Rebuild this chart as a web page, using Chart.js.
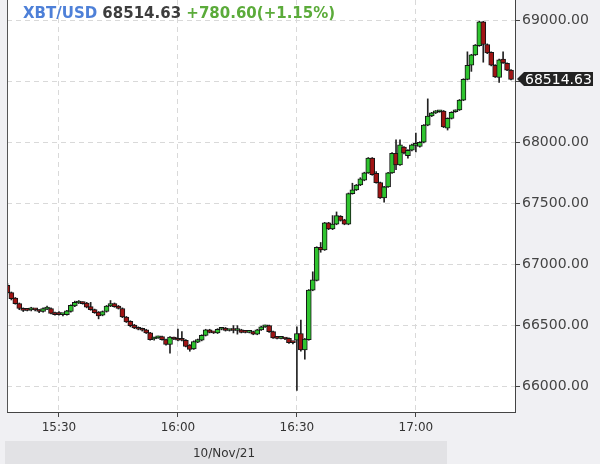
<!DOCTYPE html>
<html lang="en">
<head>
<meta charset="UTF-8">
<title>XBT/USD 1 min</title>
<script src="https://cdn.jsdelivr.net/npm/chart.js"></script>
<style>
    html, body { margin: 0; padding: 0; background: #f0f0f3; }
</style>
</head>
<body>
<canvas id="candles" width="600" height="464"></canvas>

<script type="text/javascript">
    // 1-minute candles, 15:17 - 17:24
    const times = [
        '15:17','15:18','15:19','15:20','15:21','15:22','15:23','15:24','15:25','15:26',
        '15:27','15:28','15:29','15:30','15:31','15:32','15:33','15:34','15:35','15:36',
        '15:37','15:38','15:39','15:40','15:41','15:42','15:43','15:44','15:45','15:46',
        '15:47','15:48','15:49','15:50','15:51','15:52','15:53','15:54','15:55','15:56',
        '15:57','15:58','15:59','16:00','16:01','16:02','16:03','16:04','16:05','16:06',
        '16:07','16:08','16:09','16:10','16:11','16:12','16:13','16:14','16:15','16:16',
        '16:17','16:18','16:19','16:20','16:21','16:22','16:23','16:24','16:25','16:26',
        '16:27','16:28','16:29','16:30','16:31','16:32','16:33','16:34','16:35','16:36',
        '16:37','16:38','16:39','16:40','16:41','16:42','16:43','16:44','16:45','16:46',
        '16:47','16:48','16:49','16:50','16:51','16:52','16:53','16:54','16:55','16:56',
        '16:57','16:58','16:59','17:00','17:01','17:02','17:03','17:04','17:05','17:06',
        '17:07','17:08','17:09','17:10','17:11','17:12','17:13','17:14','17:15','17:16',
        '17:17','17:18','17:19','17:20','17:21','17:22','17:23','17:24'
    ];
    const opens = [
        66830, 66770, 66725, 66680, 66640, 66630, 66628, 66630, 66625, 66615,
        66635, 66640, 66605, 66595, 66590, 66590, 66615, 66660, 66685, 66690,
        66685, 66655, 66630, 66610, 66585, 66615, 66660, 66680, 66660, 66640,
        66570, 66535, 66505, 66485, 66470, 66465, 66440, 66390, 66400, 66410,
        66385, 66345, 66400, 66390, 66385, 66380, 66340, 66310, 66365, 66380,
        66420, 66465, 66445, 66440, 66470, 66480, 66460, 66465, 66460, 66465,
        66450, 66445, 66450, 66430, 66465, 66490, 66500, 66450, 66400, 66395,
        66395, 66395, 66365, 66380, 66435, 66300, 66385, 66790, 66870, 67140,
        67120, 67340, 67290, 67330, 67395, 67365, 67330, 67580, 67610, 67650,
        67690, 67750, 67870, 67745, 67670, 67545, 67635, 67750, 67910, 67815,
        67960, 67890, 67935, 67975, 67965, 68000, 68140, 68215, 68240, 68250,
        68255, 68115, 68195, 68250, 68265, 68345, 68515, 68630, 68715, 68790,
        68985, 68800, 68735, 68630, 68530, 68680, 68645, 68590
    ];
    const highs = [
        66845, 66775, 66730, 66685, 66645, 66640, 66650, 66640, 66630, 66645,
        66660, 66645, 66610, 66615, 66600, 66625, 66670, 66700, 66705, 66695,
        66690, 66690, 66635, 66615, 66620, 66665, 66705, 66685, 66665, 66645,
        66575, 66540, 66510, 66490, 66480, 66470, 66445, 66405, 66415, 66415,
        66390, 66410, 66405, 66472, 66450, 66385, 66345, 66375, 66390, 66425,
        66470, 66470, 66450, 66475, 66485, 66485, 66470, 66500, 66500, 66470,
        66455, 66455, 66455, 66470, 66495, 66505, 66505, 66455, 66405, 66405,
        66400, 66400, 66370, 66490, 66545, 66395, 66795, 66940, 67145, 67180,
        67345, 67345, 67400, 67430, 67400, 67370, 67585, 67665, 67655, 67710,
        67755, 67875, 67875, 67760, 67675, 67640, 67755, 67915, 68020, 68020,
        67965, 67940, 67985, 68075, 68005, 68145, 68355, 68245, 68260, 68260,
        68260, 68200, 68250, 68265, 68350, 68520, 68740, 68720, 68800, 68990,
        68990, 68805, 68740, 68635, 68680, 68740, 68650, 68595
    ];
    const lows = [
        66760, 66710, 66675, 66630, 66615, 66620, 66620, 66620, 66605, 66610,
        66630, 66595, 66585, 66585, 66580, 66585, 66610, 66655, 66680, 66675,
        66645, 66625, 66600, 66555, 66580, 66610, 66655, 66650, 66635, 66565,
        66525, 66490, 66475, 66465, 66455, 66435, 66380, 66380, 66395, 66380,
        66340, 66275, 66385, 66375, 66375, 66325, 66290, 66305, 66360, 66375,
        66415, 66440, 66435, 66435, 66465, 66455, 66455, 66440, 66430, 66440,
        66440, 66440, 66425, 66425, 66460, 66485, 66445, 66395, 66390, 66390,
        66385, 66355, 66350, 65970, 66290, 66225, 66380, 66785, 66865, 67100,
        67115, 67285, 67285, 67325, 67355, 67325, 67325, 67575, 67605, 67645,
        67685, 67745, 67730, 67665, 67540, 67510, 67630, 67745, 67775, 67810,
        67905, 67870, 67930, 67920, 67960, 67995, 68135, 68210, 68235, 68245,
        68120, 68100, 68190, 68245, 68260, 68340, 68510, 68580, 68710, 68785,
        68655, 68725, 68625, 68530, 68490, 68645, 68585, 68510
    ];
    const closes = [
        66770, 66720, 66680, 66640, 66625, 66625, 66632, 66628, 66615, 66640,
        66645, 66600, 66590, 66590, 66592, 66620, 66665, 66690, 66695, 66680,
        66650, 66630, 66605, 66580, 66615, 66660, 66680, 66655, 66640, 66570,
        66530, 66500, 66480, 66470, 66462, 66440, 66385, 66395, 66410, 66385,
        66345, 66405, 66390, 66380, 66380, 66330, 66305, 66370, 66385, 66420,
        66465, 66445, 66440, 66470, 66480, 66460, 66465, 66460, 66465, 66445,
        66445, 66448, 66430, 66465, 66490, 66500, 66450, 66400, 66395, 66398,
        66390, 66360, 66360, 66435, 66300, 66390, 66790, 66875, 67140, 67120,
        67340, 67290, 67330, 67400, 67360, 67330, 67580, 67610, 67650, 67700,
        67750, 67870, 67735, 67670, 67545, 67635, 67750, 67910, 67815, 67980,
        67912, 67935, 67980, 67985, 68000, 68140, 68215, 68240, 68250, 68252,
        68125, 68195, 68245, 68255, 68345, 68515, 68630, 68715, 68795, 68985,
        68800, 68730, 68630, 68535, 68675, 68650, 68590, 68514.63
    ];

    // axis ticks
    const timeTicks = ['15:30', '16:00', '16:30', '17:00'];
    const priceTicks = [66000, 66500, 67000, 67500, 68000, 68500, 69000];

    const symbol = 'XBT/USD';
    const change = '+780.60(+1.15%)';
    const dateLabel = '10/Nov/21';

    const toMin = s => { const p = s.split(':'); return +p[0] * 60 + +p[1]; };
    const fmtMin = v => String(Math.floor(v / 60)).padStart(2, '0') + ':' + String(Math.round(v % 60)).padStart(2, '0');

    const lastClose = closes[closes.length - 1];
    const font = '"DejaVu Sans", sans-serif';

    const decor = {
        id: 'decor',
        beforeDraw(chart) {
            const {ctx, chartArea: a, width, height} = chart;
            ctx.save();
            ctx.fillStyle = '#f0f0f3';
            ctx.fillRect(0, 0, width, height);
            ctx.fillStyle = '#e2e2e5';
            ctx.fillRect(5, 441, 442, 23);
            ctx.fillStyle = '#ffffff';
            ctx.fillRect(a.left, a.top, a.right - a.left, a.bottom - a.top);
            ctx.restore();
        },
        afterDraw(chart) {
            const {ctx, chartArea: a} = chart;
            ctx.save();
            // left frame line
            ctx.strokeStyle = '#555';
            ctx.lineWidth = 1;
            ctx.beginPath();
            ctx.moveTo(a.left + 0.5, a.top);
            ctx.lineTo(a.left + 0.5, a.bottom);
            ctx.stroke();

            // header
            ctx.font = 'bold 15px ' + font;
            ctx.textBaseline = 'alphabetic';
            let x = 23;
            [[symbol + ' ', '#4e80d8'], [lastClose.toFixed(2) + ' ', '#3d3d3d'], [change, '#5bab3a']].forEach(([t, c]) => {
                ctx.fillStyle = c;
                ctx.fillText(t, x, 18);
                x += ctx.measureText(t).width;
            });

            // last price tag
            const yp = Math.round(chart.scales.y.getPixelForValue(lastClose));
            ctx.fillStyle = '#222';
            ctx.beginPath();
            ctx.moveTo(517, yp);
            ctx.lineTo(524, yp - 7);
            ctx.lineTo(593, yp - 7);
            ctx.lineTo(593, yp + 7);
            ctx.lineTo(524, yp + 7);
            ctx.closePath();
            ctx.fill();
            ctx.fillStyle = '#fff';
            ctx.font = '14px ' + font;
            ctx.textBaseline = 'middle';
            ctx.fillText(lastClose.toFixed(2), 525, yp + 1);

            // date strip
            ctx.fillStyle = '#333';
            ctx.font = '12px ' + font;
            ctx.textAlign = 'center';
            ctx.fillText(dateLabel, 224, 454);
            ctx.restore();
        }
    };

    const xs = times.map(toMin);
    const up = closes.map((c, i) => c >= opens[i]);

    new Chart(document.getElementById('candles'), {
        type: 'bar',
        data: {
            datasets: [{
                label: 'wick',
                data: xs.map((t, i) => ({x: t, y: [lows[i], highs[i]]})),
                backgroundColor: '#222',
                barThickness: 1,
                grouped: false,
                order: 2
            }, {
                label: 'body',
                data: xs.map((t, i) => ({x: t, y: [opens[i], closes[i]]})),
                backgroundColor: up.map(u => u ? '#2fc42f' : '#a01414'),
                borderColor: '#151515',
                borderWidth: 1,
                borderSkipped: false,
                barThickness: 5,
                minBarLength: 2,
                grouped: false,
                order: 1
            }]
        },
        options: {
            responsive: false,
            animation: false,
            events: [],
            layout: {padding: {left: 7, top: 0, right: 0, bottom: 0}},
            plugins: {legend: {display: false}, tooltip: {enabled: false}},
            scales: {
                x: {
                    type: 'linear',
                    min: 916.9,
                    max: 1045,
                    offset: false,
                    afterBuildTicks: s => { s.ticks = timeTicks.map(t => ({value: toMin(t)})); },
                    afterFit: s => { s.height = 52; s.paddingLeft = 0; s.paddingRight = 0; },
                    grid: {offset: false, color: '#d9d9d9', tickLength: 5, tickColor: '#444'},
                    border: {color: '#444', dash: [5, 4]},
                    ticks: {
                        padding: 4, color: '#333', maxRotation: 0, autoSkip: false,
                        font: {family: font, size: 12},
                        callback: v => fmtMin(v)
                    }
                },
                y: {
                    type: 'linear',
                    position: 'right',
                    min: 65793,
                    max: 69164,
                    afterBuildTicks: s => { s.ticks = priceTicks.map(v => ({value: v})); },
                    afterFit: s => { s.width = 85; s.paddingTop = 0; s.paddingBottom = 0; },
                    grid: {color: '#d9d9d9', tickLength: 5, tickColor: '#444'},
                    border: {color: '#444', dash: [5, 4]},
                    ticks: {
                        padding: 2, color: '#444',
                        font: {family: font, size: 14},
                        callback: v => v === 68500 ? '' : v.toFixed(2)
                    }
                }
            }
        },
        plugins: [decor]
    });
</script>
</body>
</html>
